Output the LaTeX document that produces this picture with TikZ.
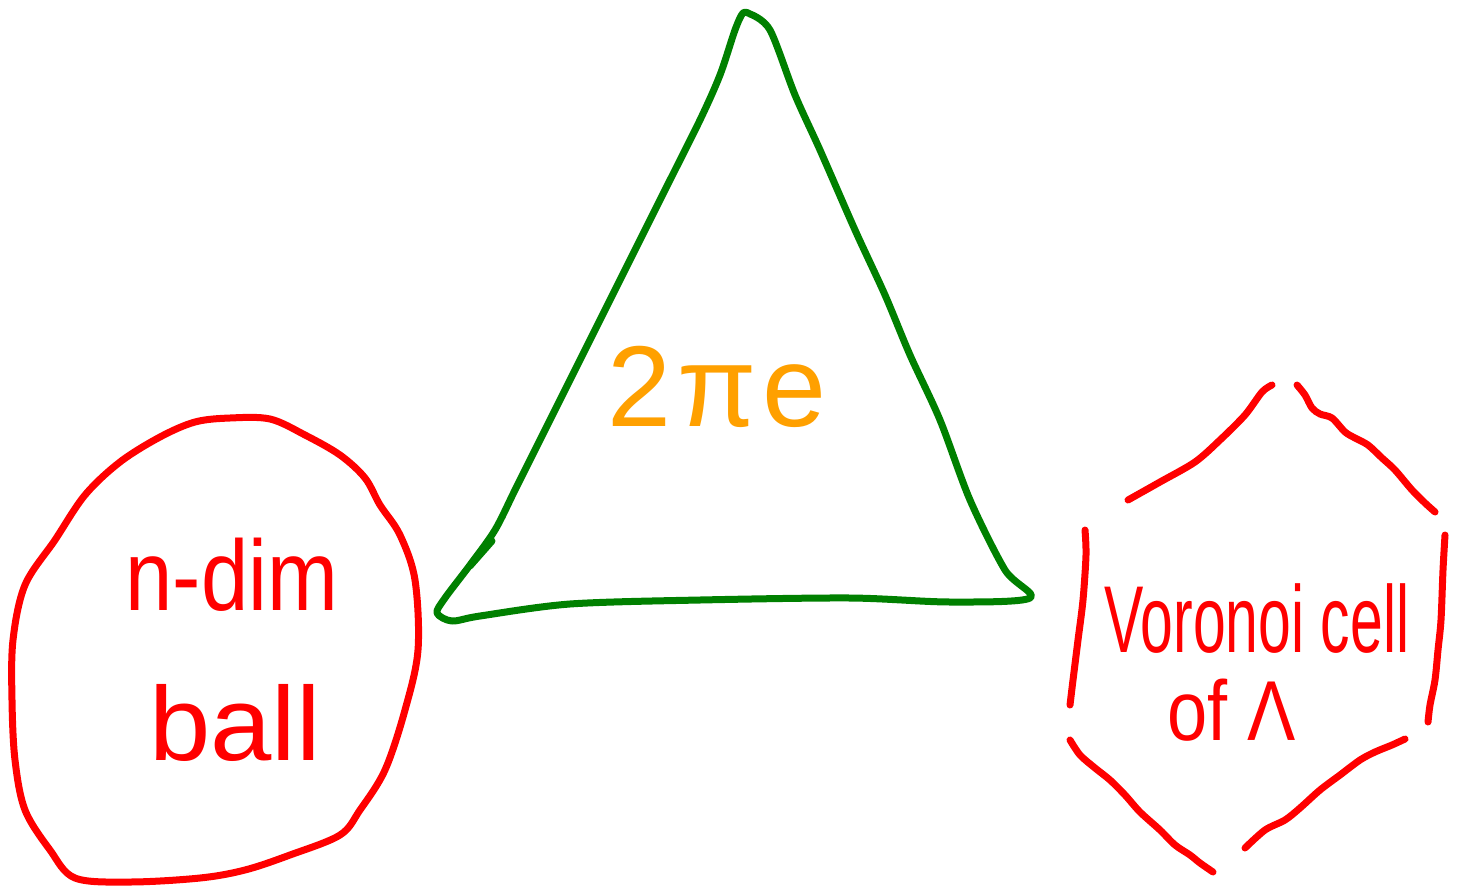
\documentclass[tikz,border=0pt]{standalone}
\usepackage{fontspec}
\setmainfont{Liberation Sans}
\definecolor{pred}{RGB}{255,0,0}
\definecolor{pgreen}{RGB}{0,128,0}
\definecolor{porange}{RGB}{255,160,0}
\tikzset{
  pen/.style={line width=7pt, line cap=round, line join=round},
  redpen/.style={pen, draw=pred},
  greenpen/.style={pen, draw=pgreen},
  label/.style={inner sep=0pt, anchor=base, transform shape},
}
\begin{document}
\begin{tikzpicture}[x=1pt,y=-1pt]
\useasboundingbox (0,0) rectangle (1459,886);
% n-dim ball
\draw[redpen] plot[smooth cycle, tension=0.55] coordinates {
 (270,419) (230,418) (195,422) (160,437) (120,462) (85,495) (55,540) (25,585) (13,640) (12,700) (15,760) (25,810) (50,850) (75,878) (130,882) (200,878) (245,870) (290,855) (340,835) (360,810) (385,770) (405,710) (418,650) (415,580) (400,535) (380,505) (365,478) (340,455) (305,435)};
\node[label, text=pred, font=\fontsize{100}{100}\selectfont, xscale=0.85] (ndim) at (232,610) {n-dim};
\node[label, text=pred, font=\fontsize{105}{105}\selectfont, xscale=1.05] (ball) at (235,760) {ball};
% triangle
\draw[greenpen] plot[smooth, tension=0.5] coordinates {
 (750,14) (743,13) (735,30) (720,75) (700,120) (665,190) (630,260) (600,320) (570,380) (540,440) (515,490) (495,530) (470,565) (445,598) (437,613) (452,621) (480,616) (570,604) (700,600) (850,598) (950,602) (1030,598) (1005,570) (970,500) (940,420) (910,355) (885,295) (855,230) (820,150) (795,95) (770,30) (750,14)};
\draw[greenpen] (492,541) -- (470,566);
\node[label, text=porange, font=\fontsize{115}{115}\selectfont] (tpe) at (717,426) {2\kern0.05em π\kern0.05em e};
% Voronoi cell hexagon
\draw[redpen] plot[smooth, tension=0.5] coordinates {(1128,500) (1160,482) (1195,462) (1220,440) (1245,415) (1262,392) (1272,385)};
\draw[redpen] plot[smooth, tension=0.5] coordinates {(1297,385) (1305,395) (1312,408) (1320,414) (1332,418) (1345,432) (1355,438) (1368,445) (1382,458) (1395,470) (1412,490) (1425,503) (1435,512)};
\draw[redpen] plot[smooth, tension=0.5] coordinates {(1445,535) (1443,570) (1441,620) (1438,650) (1435,680) (1430,705) (1428,722)};
\draw[redpen] plot[smooth, tension=0.5] coordinates {(1085,530) (1086,555) (1083,600) (1078,640) (1073,680) (1070,705)};
\draw[redpen] plot[smooth, tension=0.5] coordinates {(1070,740) (1080,755) (1095,768) (1110,780) (1125,795) (1140,812) (1160,830) (1175,845) (1190,855) (1200,863) (1213,872)};
\draw[redpen] plot[smooth, tension=0.5] coordinates {(1245,848) (1265,830) (1285,820) (1300,808) (1320,790) (1340,775) (1360,760) (1375,752) (1392,745) (1405,739)};
\node[label, text=pred, font=\fontsize{95}{95}\selectfont, xscale=0.62] (vor) at (1257,652) {Voronoi cell};
\node[label, text=pred, font=\fontsize{85}{85}\selectfont, xscale=0.85] (ofl) at (1232,740) {of Λ};
\end{tikzpicture}
\end{document}
